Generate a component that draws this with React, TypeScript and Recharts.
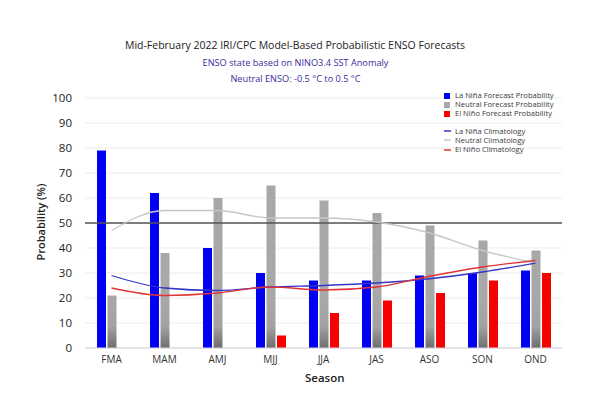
import React from 'react';
import { ComposedChart, Bar, Line, XAxis, YAxis, CartesianGrid, ReferenceLine, Legend } from 'recharts';

const seasons = ['FMA', 'MAM', 'AMJ', 'MJJ', 'JJA', 'JAS', 'ASO', 'SON', 'OND'];
const laNinaProb = [79, 62, 40, 30, 27, 27, 29, 30, 31];
const neutralProb = [21, 38, 60, 65, 59, 54, 49, 43, 39];
const elNinoProb = [0, 0, 0, 5, 14, 19, 22, 27, 30];
const laNinaClim = [29, 24, 23, 24.4, 25, 26, 27.7, 30.4, 34];
const neutralClim = [47, 55, 55, 52, 52, 50.4, 46, 39, 34];
const elNinoClim = [24, 21, 22, 24.4, 23.2, 24.4, 28.7, 32.4, 35];
const yTicks = [0, 10, 20, 30, 40, 50, 60, 70, 80, 90, 100];

const data = seasons.map((s, i) => ({
  season: s,
  laNina: laNinaProb[i],
  neutral: neutralProb[i],
  elNino: elNinoProb[i],
  laNinaClim: laNinaClim[i],
  neutralClim: neutralClim[i],
  elNinoClim: elNinoClim[i],
}));

const BLUE = '#0000f5';
const GRAY = '#a8a8a8';
const RED = '#f70000';
const BLUE_LINE = '#3535c8';
const GRAY_LINE = '#c6c6c6';
const RED_LINE = '#e23434';
const FONT = '"Open Sans", "Noto Sans", sans-serif';

const legendItems = [
  { label: 'La Niña Forecast Probability', color: BLUE, kind: 'box' },
  { label: 'Neutral Forecast Probability', color: GRAY, kind: 'box' },
  { label: 'El Niño Forecast Probability', color: RED, kind: 'box' },
  { label: 'La Niña Climatology', color: BLUE_LINE, kind: 'line' },
  { label: 'Neutral Climatology', color: GRAY_LINE, kind: 'line' },
  { label: 'El Niño Climatology', color: RED_LINE, kind: 'line' },
];

const renderLegend = () => (
  <div style={{ fontFamily: FONT, fontSize: 7.6, color: '#3a3a3a', lineHeight: '9.2px' }}>
    {legendItems.map((it, i) => (
      <div key={it.label} style={{ display: 'flex', alignItems: 'center', height: 9.2, marginTop: i === 3 ? 8 : 0 }}>
        <svg width={11} height={8} style={{ display: 'block' }}>
          {it.kind === 'box' ? (
            <rect x={0} y={1} width={6} height={6} fill={it.color} />
          ) : (
            <line x1={0} y1={4} x2={7} y2={4} stroke={it.color} strokeWidth={1.5} />
          )}
        </svg>
        <span>{it.label}</span>
      </div>
    ))}
  </div>
);

export default function App() {
  return (
    <div style={{ position: 'absolute', left: 0, top: 0, width: 600, height: 395, background: '#fff', fontFamily: FONT }}>
      <div style={{ position: 'absolute', left: 0, width: 590, top: 38, textAlign: 'center', fontSize: 10.5, color: '#222', fontWeight: 500 }}>
        Mid-February 2022 IRI/CPC Model-Based Probabilistic ENSO Forecasts
      </div>
      <div style={{ position: 'absolute', left: 0, width: 591, top: 56, textAlign: 'center', fontSize: 9.2, color: '#3a2d9c' }}>
        ENSO state based on NINO3.4 SST Anomaly
      </div>
      <div style={{ position: 'absolute', left: 0, width: 591, top: 72, textAlign: 'center', fontSize: 9.2, color: '#3a2d9c' }}>
        Neutral ENSO: -0.5 °C to 0.5 °C
      </div>
      <div style={{ position: 'absolute', left: 40, top: 222, transform: 'translate(-50%, -50%) rotate(-90deg)', fontSize: 11, fontWeight: 600, color: '#222', whiteSpace: 'nowrap' }}>
        Probability (%)
      </div>
      <div style={{ position: 'absolute', left: 305, top: 370, fontSize: 11.5, fontWeight: 600, color: '#222' }}>
        Season
      </div>
      <ComposedChart
        width={600}
        height={395}
        data={data}
        margin={{ top: 98, right: 38, bottom: 17, left: 0 }}
        barSize={9}
        barGap={1.5}
      >
        <defs>
          <linearGradient id="grayGrad" gradientUnits="userSpaceOnUse" x1="0" y1="300" x2="0" y2="348">
            <stop offset="0" stopColor={GRAY} />
            <stop offset="0.55" stopColor="#a2a2a2" />
            <stop offset="1" stopColor="#6e6e6e" />
          </linearGradient>
        </defs>
        <CartesianGrid vertical={false} stroke="#ececec" />
        <XAxis
          dataKey="season"
          height={30}
          tickLine={false}
          tickSize={0}
          tickMargin={8}
          axisLine={{ stroke: '#d0d0dc' }}
          tick={{ fontSize: 10, fill: '#333', fontFamily: FONT, fontWeight: 500 }}
        />
        <YAxis
          width={85}
          domain={[0, 100]}
          ticks={yTicks}
          interval={0}
          axisLine={false}
          tickLine={false}
          tickSize={0}
          tickMargin={13}
          tick={{ fontSize: 11.5, fill: '#222', fontFamily: FONT }}
        />
        <ReferenceLine y={50} stroke="#555" strokeWidth={1.5} />
        <Bar dataKey="laNina" fill={BLUE} isAnimationActive={false} />
        <Bar dataKey="neutral" fill="url(#grayGrad)" isAnimationActive={false} />
        <Bar dataKey="elNino" fill={RED} isAnimationActive={false} />
        <Line type="monotone" dataKey="neutralClim" stroke={GRAY_LINE} strokeWidth={1.3} dot={false} isAnimationActive={false} />
        <Line type="monotone" dataKey="laNinaClim" stroke={BLUE_LINE} strokeWidth={1.3} dot={false} isAnimationActive={false} />
        <Line type="monotone" dataKey="elNinoClim" stroke={RED_LINE} strokeWidth={1.3} dot={false} isAnimationActive={false} />
        <Legend
          layout="vertical"
          align="center"
          verticalAlign="middle"
          content={renderLegend}
          wrapperStyle={{ position: 'absolute', left: 444, top: 91, width: 160, height: 70 }}
        />
      </ComposedChart>
    </div>
  );
}
